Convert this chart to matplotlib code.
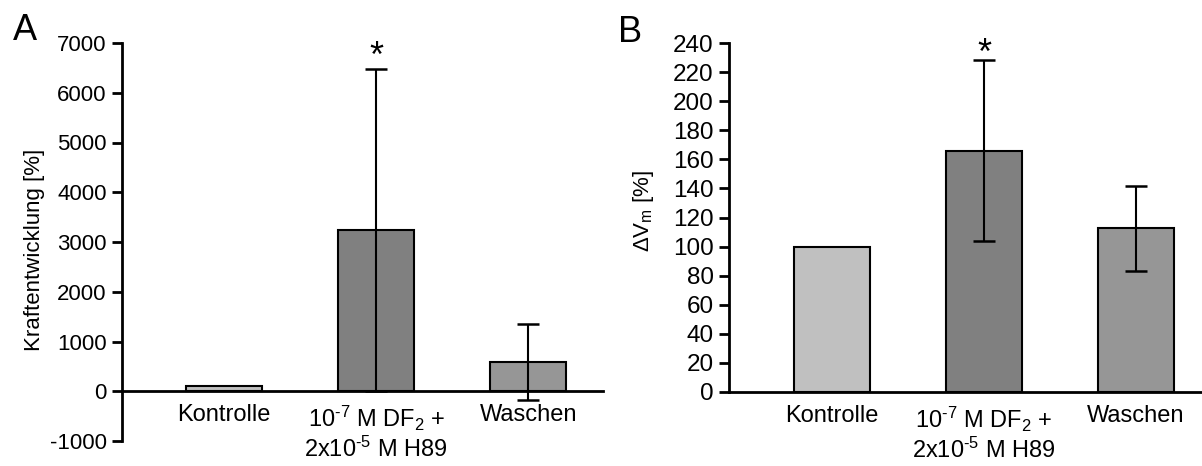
import numpy as np
import matplotlib
matplotlib.use('Agg')
import matplotlib.pyplot as plt

plt.rcParams['font.family'] = ['Liberation Sans', 'DejaVu Sans']
plt.rcParams['mathtext.fontset'] = 'custom'
plt.rcParams['mathtext.rm'] = 'Liberation Sans'
plt.rcParams['mathtext.default'] = 'regular'
plt.rcParams['axes.unicode_minus'] = False

# Data
categories = ['Kontrolle', r'10$^{\text{-7}}$ M DF$_2$ +' + '\n' + r'2x10$^{\text{-5}}$ M H89', 'Waschen']
bar_colors = ['#c0c0c0', '#808080', '#969696']

kraft_mean = [100, 3240, 590]
kraft_err = [0, 3230, 760]

vm_mean = [100, 166, 112.5]
vm_err = [0, 62, 29]

W, H = 1202, 466
fig = plt.figure(figsize=(W / 100, H / 100), dpi=100)

axA = fig.add_axes([122 / W, 1 - 441 / H, (603 - 122) / W, (441 - 43) / H])
axB = fig.add_axes([729 / W, 1 - 392 / H, (1202 - 729) / W, (392 - 43) / H])


def draw_panel(ax, means, errs, ylim, yticks, ylabel, star_y, xlim, ytick_size):
    x = np.arange(len(categories))
    yerr = [e if e > 0 else np.nan for e in errs]
    ax.bar(x, means, width=0.5, color=bar_colors, edgecolor='black', linewidth=1.5, zorder=2)
    ax.errorbar(x, means, yerr=yerr, fmt='none', ecolor='black', elinewidth=1.5,
                capsize=8, capthick=1.8, zorder=3)
    ax.set_xlim(*xlim)
    ax.set_ylim(*ylim)
    ax.set_yticks(yticks)
    ax.tick_params(axis='y', direction='out', length=7, width=2, labelsize=ytick_size, pad=4)
    ax.tick_params(axis='x', length=0, labelsize=17, pad=9)
    ax.set_xticks(x)
    ax.set_xticklabels(categories, linespacing=1.55)
    ax.spines['top'].set_visible(False)
    ax.spines['right'].set_visible(False)
    ax.spines['left'].set_linewidth(2)
    ax.spines['bottom'].set_linewidth(2)
    ax.spines['bottom'].set_position(('data', 0))
    ax.set_ylabel(ylabel, fontsize=16)
    ax.text(1, star_y, '*', ha='center', va='center', fontsize=26)


draw_panel(axA, kraft_mean, kraft_err, (-1000, 7000), np.arange(-1000, 7001, 1000),
           'Kraftentwicklung [%]', 6700, (-0.671, 2.49), 16)
draw_panel(axB, vm_mean, vm_err, (0, 240), np.arange(0, 241, 20),
           r'$\Delta$V$_m$ [%]', 232, (-0.678, 2.434), 17.5)

axA.yaxis.set_label_coords(-0.16, 0.48)
axB.yaxis.set_label_coords(-0.155, 0.52)

fig.text(25 / W, 1 - 30 / H, 'A', fontsize=26, ha='center', va='center')
fig.text(630 / W, 1 - 32 / H, 'B', fontsize=26, ha='center', va='center')

fig.savefig('out.png', dpi=100)
